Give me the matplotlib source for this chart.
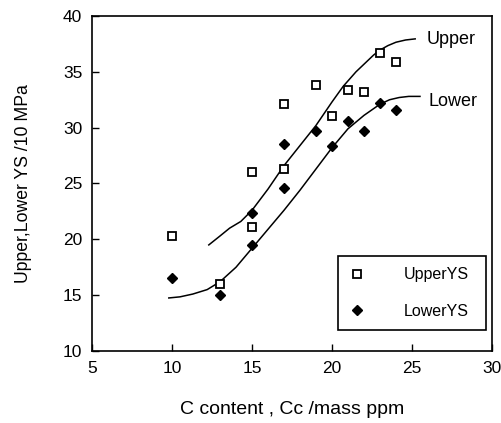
import numpy as np
import matplotlib
matplotlib.use('Agg')
import matplotlib.pyplot as plt
from matplotlib.pyplot import MultipleLocator

plt.rcParams['font.family'] = ['Liberation Sans', 'DejaVu Sans']

# measured points
upper_c = [10, 13, 15, 15, 17, 17, 19, 20, 21, 22, 23, 24]
upper_ys = [20.3, 16.0, 26.0, 21.1, 32.1, 26.3, 33.8, 31.0, 33.4, 33.2, 36.7, 35.9]
lower_c = [10, 13, 15, 15, 17, 17, 19, 20, 21, 22, 23, 24]
lower_ys = [16.5, 15.0, 22.4, 19.5, 28.5, 24.6, 29.7, 28.4, 30.6, 29.7, 32.2, 31.6]

# hand drawn trend curves
upper_curve_x = [12.3, 13.0, 13.6, 14.3, 15.0, 16.0, 17.0, 18.0, 19.0, 20.0, 20.7, 21.5, 22.6, 23.0, 23.5, 24.0, 24.6, 25.2]
upper_curve_y = [19.5, 20.3, 21.0, 21.6, 22.6, 24.5, 26.6, 28.4, 30.2, 32.3, 33.7, 35.0, 36.5, 36.95, 37.35, 37.65, 37.85, 37.95]
lower_curve_x = [9.8, 10.5, 11.3, 12.2, 13.0, 14.0, 15.0, 16.0, 17.0, 18.0, 19.0, 20.0, 21.0, 22.0, 23.0, 23.6, 24.2, 24.8, 25.5]
lower_curve_y = [14.75, 14.85, 15.1, 15.5, 16.2, 17.5, 19.2, 20.9, 22.6, 24.4, 26.3, 28.2, 29.9, 31.1, 32.1, 32.5, 32.7, 32.8, 32.8]


def main():
    fig = plt.figure(figsize=(5.02, 4.23), dpi=100)
    ax = fig.add_axes([0.1833, 0.1702, 0.7967, 0.7920])

    ax.plot(upper_curve_x, upper_curve_y, 'k-', linewidth=1.1)
    ax.plot(lower_curve_x, lower_curve_y, 'k-', linewidth=1.1)

    ax.plot(upper_c, upper_ys, 's', markersize=6.2, markerfacecolor='white',
            markeredgecolor='black', markeredgewidth=1.3, linestyle='none', label='UpperYS')
    ax.plot(lower_c, lower_ys, 'D', markersize=5.5, color='black',
            linestyle='none', label='LowerYS')

    ax.text(25.9, 37.85, 'Upper', fontsize=13, va='center', ha='left')
    ax.text(26.05, 32.35, 'Lower', fontsize=13, va='center', ha='left')

    ax.set_xlim(5, 30)
    ax.set_ylim(10, 40)
    ax.xaxis.set_major_locator(MultipleLocator(5))
    ax.yaxis.set_major_locator(MultipleLocator(5))
    ax.tick_params(direction='in', length=5, width=1, labelsize=12.5, pad=7,
                   top=False, right=False)
    for s in ax.spines.values():
        s.set_linewidth(1.2)

    ax.set_xlabel('C content , Cc /mass ppm', fontsize=14, labelpad=18)
    ax.set_ylabel('Upper,Lower YS /10 MPa', fontsize=12.7, labelpad=22)

    leg = ax.legend(loc='lower left', bbox_to_anchor=(0.614, 0.063, 0.371, 0.224),
                    mode='expand', borderaxespad=0, fontsize=11.5, numpoints=1,
                    handlelength=1.06, handletextpad=2.4, borderpad=0.7,
                    labelspacing=1.35, fancybox=False, framealpha=1)
    leg.get_frame().set_edgecolor('black')
    leg.get_frame().set_linewidth(1.2)

    fig.savefig('out.png', dpi=100)


if __name__ == "__main__":
    main()
